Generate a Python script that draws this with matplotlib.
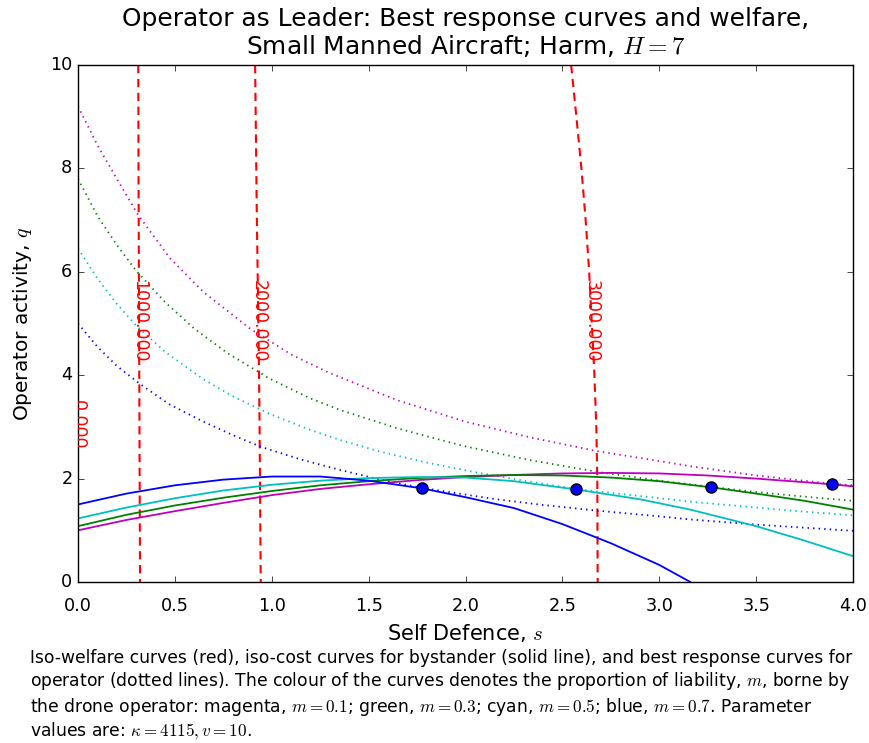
import numpy as np
import matplotlib
matplotlib.use('Agg')
import matplotlib.pyplot as plt

plt.style.use('classic')
plt.rcParams['figure.facecolor'] = 'white'
plt.rcParams['savefig.facecolor'] = 'white'
plt.rcParams['mathtext.fontset'] = 'cm'

# best response curves of the operator (dotted), one per liability share m
br_m01_s = [0.0, 0.1, 0.2, 0.31, 0.475, 0.647, 0.888, 1.1, 1.3, 1.645, 2.0, 2.33, 2.68,
            3.0, 3.16, 3.5, 3.89, 4.0]
br_m01_q = [9.2, 8.45, 7.8, 7.1, 6.26, 5.61, 4.90, 4.40, 4.04, 3.52, 3.10, 2.80, 2.53,
            2.34, 2.24, 2.06, 1.90, 1.87]

br_m03_s = [0.0, 0.1, 0.2, 0.3, 0.45, 0.6, 0.77, 0.99, 1.2, 1.35, 1.65, 1.99, 2.33, 2.68,
            3.0, 3.27, 3.5, 3.75, 4.0]
br_m03_q = [7.8, 7.08, 6.52, 6.02, 5.41, 4.90, 4.43, 3.93, 3.55, 3.33, 2.97, 2.63, 2.36, 2.13,
            1.96, 1.84, 1.74, 1.65, 1.57]

br_m05_s = [0.0, 0.1, 0.2, 0.3, 0.45, 0.647, 0.8, 0.99, 1.2, 1.35, 1.56, 1.8, 2.04, 2.3,
            2.57, 2.93, 3.2, 3.5, 3.75, 4.0]
br_m05_q = [6.45, 5.87, 5.38, 4.96, 4.45, 3.92, 3.59, 3.25, 2.94, 2.75, 2.52, 2.31, 2.13, 1.96,
            1.80, 1.65, 1.54, 1.44, 1.36, 1.29]

br_m07_s = [0.0, 0.1, 0.2, 0.32, 0.47, 0.647, 0.8, 0.94, 1.15, 1.35, 1.56, 1.777, 2.0, 2.16,
            2.4, 2.68, 3.0, 3.16, 3.5, 3.75, 4.0]
br_m07_q = [5.0, 4.55, 4.18, 3.83, 3.44, 3.10, 2.84, 2.62, 2.37, 2.17, 1.98, 1.82, 1.69, 1.60,
            1.49, 1.38, 1.27, 1.21, 1.11, 1.05, 0.99]

# iso-cost curves for the bystander (solid)
ic_m01_s = [0.0, 0.25, 0.5, 0.75, 1.0, 1.25, 1.5, 1.75, 2.0, 2.25, 2.5, 2.75, 3.0, 3.25,
            3.5, 3.75, 3.89, 4.0]
ic_m01_q = [1.0, 1.20, 1.37, 1.53, 1.68, 1.80, 1.89, 1.97, 2.03, 2.07, 2.10, 2.11, 2.10, 2.06,
            2.0, 1.93, 1.89, 1.85]

ic_m03_s = [0.0, 0.25, 0.5, 0.75, 1.0, 1.25, 1.5, 1.75, 2.0, 2.25, 2.5, 2.75, 3.0, 3.27,
            3.5, 3.75, 4.0]
ic_m03_q = [1.08, 1.30, 1.48, 1.63, 1.76, 1.87, 1.95, 2.01, 2.05, 2.07, 2.06, 2.02, 1.95, 1.83,
            1.71, 1.57, 1.40]

ic_m05_s = [0.0, 0.25, 0.5, 0.75, 1.0, 1.25, 1.5, 1.75, 2.0, 2.25, 2.57, 2.9, 3.16, 3.5,
            3.75, 4.0]
ic_m05_q = [1.23, 1.44, 1.62, 1.77, 1.88, 1.96, 2.01, 2.03, 2.02, 1.95, 1.79, 1.60, 1.40, 1.08,
            0.80, 0.50]

ic_m07_s = [0.0, 0.25, 0.5, 0.75, 1.0, 1.25, 1.5, 1.777, 2.0, 2.25, 2.5, 2.75, 3.0, 3.16]
ic_m07_q = [1.50, 1.71, 1.87, 1.98, 2.04, 2.04, 1.96, 1.81, 1.64, 1.43, 1.12, 0.75, 0.33, 0.0]

# equilibrium points
eq_s = [1.777, 2.57, 3.267, 3.893]
eq_q = [1.81, 1.79, 1.83, 1.89]

# iso-welfare contours
welfare_q = [10, 9, 8, 7, 6, 4.1, 3, 2, 0]
w1000_s = [0.311, 0.3115, 0.312, 0.313, 0.314, 0.316, 0.317, 0.318, 0.320]
w2000_s = [0.914, 0.917, 0.920, 0.923, 0.927, 0.934, 0.937, 0.939, 0.943]
w3000_s = [2.545, 2.572, 2.598, 2.620, 2.638, 2.664, 2.675, 2.680, 2.682]
welfare_levels = [0.0, 1000.0, 2000.0, 3000.0]
label_s = [0.0, 0.315, 0.931, 2.650]
label_q = [3.04, 5.05, 5.05, 5.05]

fig = plt.figure(figsize=(8.7, 7.43), dpi=100)
ax = fig.add_axes([0.0897, 0.2167, 0.8908, 0.6958])

# contour lines, broken where the level label sits
for cs in [w1000_s, w2000_s, w3000_s]:
    q = np.array(welfare_q, dtype=float)
    q_gap = np.where((q > 4.1) & (q < 6.0), np.nan, q)
    ax.plot(cs, q_gap, color='r', lw=1.5, linestyle=(0, (6, 4)))
for s0, q0, lev in zip(label_s, label_q, welfare_levels):
    ax.text(s0, q0, '%.3f' % lev, color='r', fontsize=12.5, rotation=-90,
            ha='center', va='center', clip_on=True)

dots = (0, (1, 3))
ax.plot(br_m01_s, br_m01_q, 'm', lw=1.3, linestyle=dots)
ax.plot(br_m03_s, br_m03_q, 'g', lw=1.3, linestyle=dots)
ax.plot(br_m05_s, br_m05_q, 'c', lw=1.3, linestyle=dots)
ax.plot(br_m07_s, br_m07_q, 'b', lw=1.3, linestyle=dots)

ax.plot(ic_m01_s, ic_m01_q, 'm-', lw=1.3)
ax.plot(ic_m03_s, ic_m03_q, 'g-', lw=1.3)
ax.plot(ic_m05_s, ic_m05_q, 'c-', lw=1.3)
ax.plot(ic_m07_s, ic_m07_q, 'b-', lw=1.3)

ax.plot(eq_s, eq_q, 'bo', ms=8, mec='k', mew=1)

ax.set_xlim(0, 4)
ax.set_ylim(0, 10)
ax.set_xticks(np.arange(0, 4.01, 0.5))
ax.set_yticks(np.arange(0, 10.1, 2))
ax.tick_params(labelsize=12.7)
ax.tick_params(axis='x', pad=11)
ax.set_xlabel('Self Defence, $s$', fontsize=15)
ax.set_ylabel('Operator activity, $q$', fontsize=14.5, labelpad=12)
ax.set_title('Operator as Leader: Best response curves and welfare,\n'
             'Small Manned Aircraft; Harm, $H=7$', fontsize=17.9, linespacing=1.1, pad=8)

caption = ('Iso-welfare curves (red), iso-cost curves for bystander (solid line), and best response curves for\n'
           'operator (dotted lines). The colour of the curves denotes the proportion of liability, $m$, borne by\n'
           'the drone operator: magenta, $m=0.1$; green, $m=0.3$; cyan, $m=0.5$; blue, $m=0.7$. Parameter\n'
           'values are: $\\kappa=4115, v=10$.')
fig.text(0.034, 0.127, caption, fontsize=12.3, va='top', ha='left', linespacing=1.22)

fig.savefig('out.png', dpi=100)
